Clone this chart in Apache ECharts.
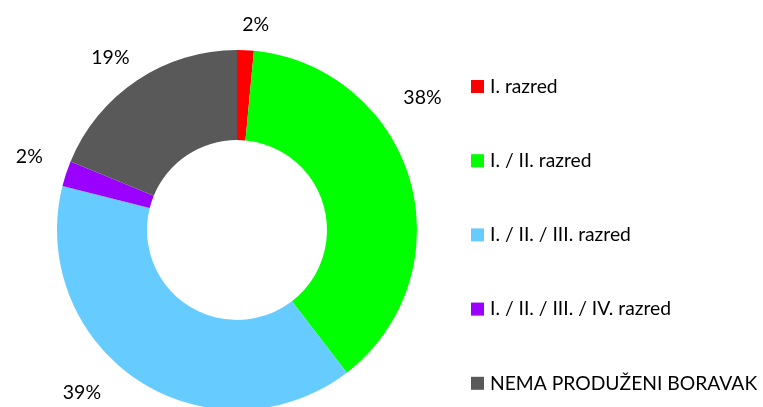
<!DOCTYPE html>
<html>
<head>
<meta charset="utf-8">
<style>
  html, body { margin: 0; padding: 0; background: #fff; }
  #chart { width: 763px; height: 407px; }
</style>
<script src="https://cdn.jsdelivr.net/npm/echarts@6/dist/echarts.min.js"></script>
</head>
<body>
<div id="chart"></div>
<script>
// kategorije i udjeli (%) očitani sa slike
var categories = ['I. razred', 'I. / II. razred', 'I. / II. / III. razred', 'I. / II. / III. / IV. razred', 'NEMA PRODUŽENI BORAVAK'];
var shares = [1.5, 38.1, 39.4, 2.3, 18.8];
var colors = ['#ff0000', '#00ff00', '#66ccff', '#9900ff', '#595959'];
// pomak natpisa (px) da sjednu kao na originalu
var labelNudge = [[-9, -10], [-26, -78], [-24, 0], [-4, -12], [6, -10]];

var chart = echarts.init(document.getElementById('chart'), null, { renderer: 'canvas' });

var option = {
  animation: false,
  color: colors,
  legend: {
    orient: 'vertical',
    left: 471,
    top: 77,
    height: 340,
    padding: 0,
    itemWidth: 13,
    itemHeight: 13,
    itemGap: 55.2,
    icon: 'rect',
    selectedMode: false,
    textStyle: { fontFamily: 'Lato', fontSize: 19.3, color: '#000', padding: [0, 0, 0, 1] },
    data: categories
  },
  series: [{
    type: 'pie',
    center: [237, 230],
    radius: [90, 180],
    startAngle: 90,
    clockwise: true,
    avoidLabelOverlap: false,
    label: {
      show: true,
      position: 'outside',
      fontFamily: 'Lato',
      fontSize: 19.5,
      color: '#000',
      formatter: function (p) { return Math.round(p.value) + '%'; }
    },
    labelLine: { show: false, length: 15, length2: 0 },
    labelLayout: function (p) {
      var n = labelNudge[p.dataIndex];
      return { dx: n[0], dy: n[1] };
    },
    emphasis: { disabled: true },
    data: categories.map(function (c, i) { return { name: c, value: shares[i] }; })
  }]
};

chart.setOption(option);
</script>
</body>
</html>
